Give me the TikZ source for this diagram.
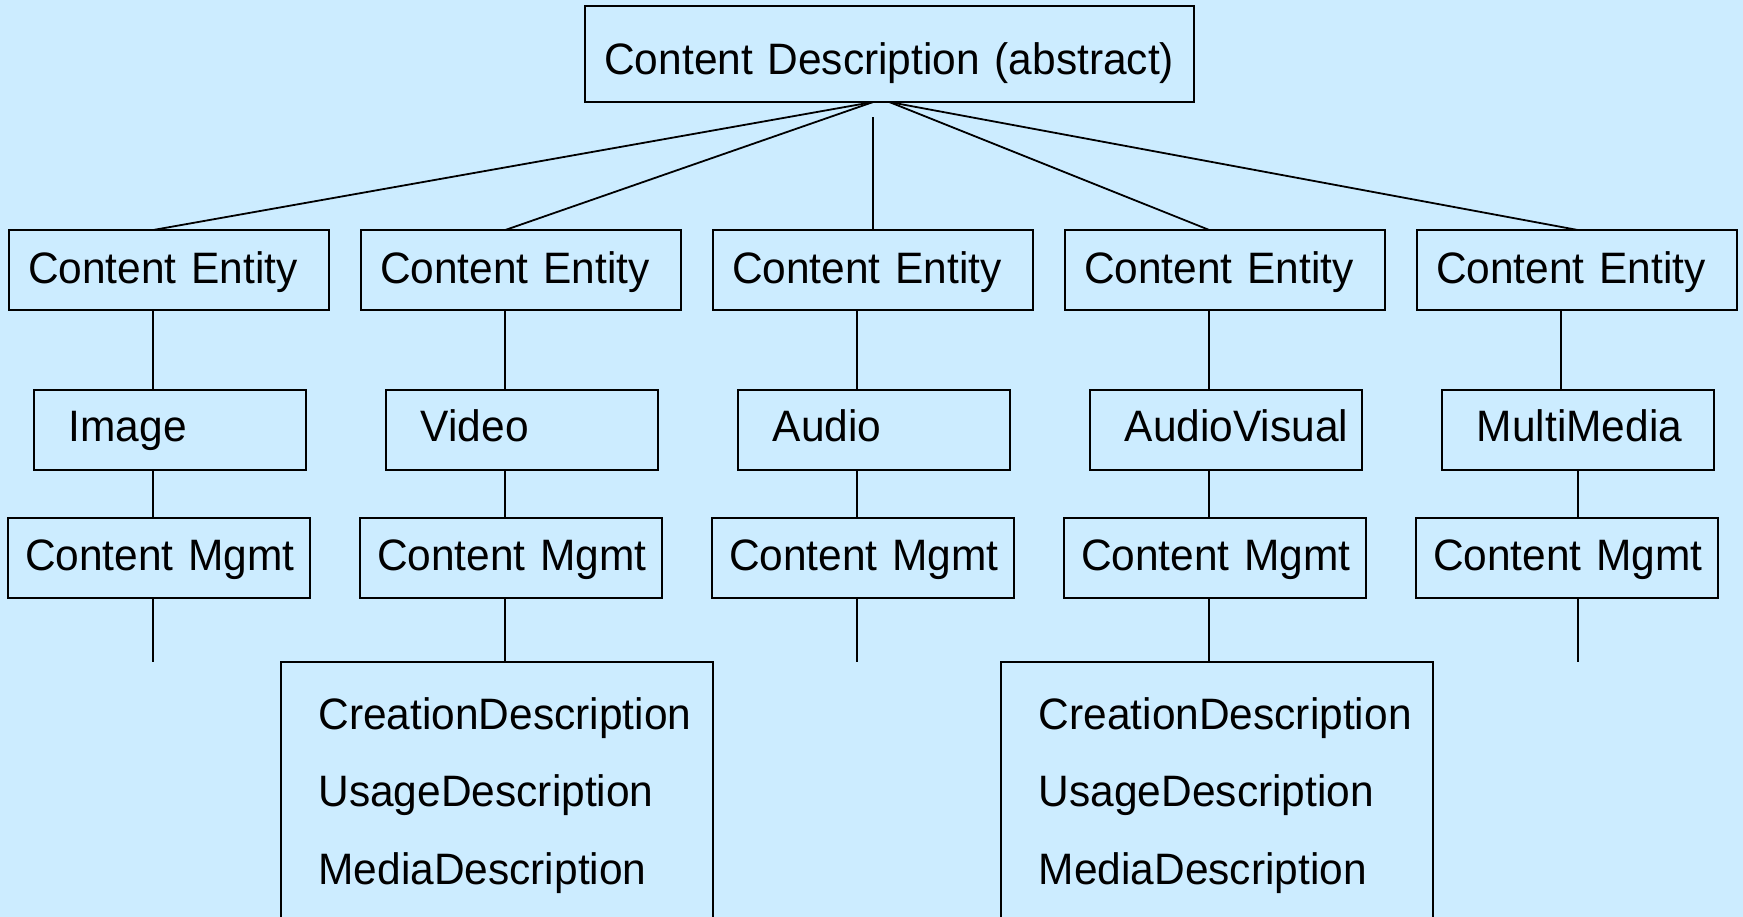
\documentclass[tikz,border=0pt]{standalone}
\usepackage{fontspec}
\setmainfont{Liberation Sans}[FakeStretch=0.965]
\hyphenpenalty=10000
\exhyphenpenalty=10000
\definecolor{bgblue}{HTML}{CCECFF}
\begin{document}
\begin{tikzpicture}[x=1pt,y=-1pt,
  box/.style={draw=black, line width=1.8pt, rectangle, anchor=north west, inner ysep=0pt, outer sep=0pt, align=left, font=\fontsize{44}{52}\selectfont},
  topbox/.style={box, align=center, inner xsep=0pt, text width=609pt, text height=68.3pt, text depth=27.7pt},
  entbox/.style={box, inner xsep=19pt, text width=282pt, text height=53.3pt, text depth=26.7pt},
  kindbox/.style={box, inner xsep=34.5pt, text width=203pt, text height=51.7pt, text depth=28.3pt},
  mgmtbox/.style={box, inner xsep=17pt, text width=268pt, text height=51.7pt, text depth=28.3pt},
  descbox/.style={box, inner xsep=37.5pt, text width=357pt, text height=66.7pt, text depth=300pt, font=\fontsize{44}{77.5}\selectfont},
  link/.style={draw=black, line width=1.8pt}]
\useasboundingbox (0,0) rectangle (1743,917);
\clip (0,0) rectangle (1743,917);
\fill[bgblue] (0,0) rectangle (1743,917);

% top
\node[topbox] (cd) at (584.7,6) {Content~Description~(abstract)};

% content entities
\node[entbox] (ce1) at (9,230) {Content~Entity};
\node[entbox] (ce2) at (361,230) {Content~Entity};
\node[entbox] (ce3) at (713,230) {Content~Entity};
\node[entbox] (ce4) at (1065,230) {Content~Entity};
\node[entbox] (ce5) at (1417,230) {Content~Entity};

% kinds
\node[kindbox] (k1) at (34.3,390) {Image};
\node[kindbox] (k2) at (386.3,390) {Video};
\node[kindbox] (k3) at (738.3,390) {Audio};
\node[kindbox] (k4) at (1090.3,390) {AudioVisual};
\node[kindbox] (k5) at (1442.3,390) {MultiMedia};

% management
\node[mgmtbox] (m1) at (8,518.3) {Content~Mgmt};
\node[mgmtbox] (m2) at (360,518.3) {Content~Mgmt};
\node[mgmtbox] (m3) at (712,518.3) {Content~Mgmt};
\node[mgmtbox] (m4) at (1064,518.3) {Content~Mgmt};
\node[mgmtbox] (m5) at (1416,518.3) {Content~Mgmt};

% descriptions
\node[descbox] (d1) at (281,662.3) {CreationDescription\\UsageDescription\\MediaDescription};
\node[descbox] (d2) at (1001.3,662.3) {CreationDescription\\UsageDescription\\MediaDescription};

% column positions
\coordinate (x1) at (153.3,0);
\coordinate (x2) at (505.3,0);
\coordinate (x3) at (857.3,0);
\coordinate (x4) at (1209.3,0);
\coordinate (x5) at (1561.3,0);
\coordinate (x5b) at (1577.7,0);
\coordinate (x3t) at (873.2,0);
\coordinate (hubl) at ([xshift=-16pt]cd.south);
\coordinate (stem) at ([yshift=-15.3pt]hubl);

% top links
\draw[link] (hubl) -- (ce1.north -| x1);
\draw[link] (hubl) -- (ce2.north -| x2);
\draw[link] (stem) -- (ce3.north -| x3t);
\draw[link] (cd.south) -- (ce4.north -| x4);
\draw[link] (cd.south) -- (ce5.north -| x5b);

% entity to kind
\draw[link] (ce1.south -| x1) -- (k1.north -| x1);
\draw[link] (ce2.south -| x2) -- (k2.north -| x2);
\draw[link] (ce3.south -| x3) -- (k3.north -| x3);
\draw[link] (ce4.south -| x4) -- (k4.north -| x4);
\draw[link] (ce5.south -| x5) -- (k5.north -| x5);

% kind to management
\draw[link] (k1.south -| x1) -- (m1.north -| x1);
\draw[link] (k2.south -| x2) -- (m2.north -| x2);
\draw[link] (k3.south -| x3) -- (m3.north -| x3);
\draw[link] (k4.south -| x4) -- (m4.north -| x4);
\draw[link] (k5.south -| x5b) -- (m5.north -| x5b);

% management to descriptions and stubs
\coordinate (e1) at (x1 |- d1.north);
\coordinate (e3) at (x3 |- d1.north);
\coordinate (e5) at (x5b |- d1.north);
\draw[link] (m1.south -| x1) -- (e1);
\draw[link] (m2.south -| x2) -- (d1.north -| x2);
\draw[link] (m3.south -| x3) -- (e3);
\draw[link] (m4.south -| x4) -- (d2.north -| x4);
\draw[link] (m5.south -| x5b) -- (e5);
\end{tikzpicture}
\end{document}
